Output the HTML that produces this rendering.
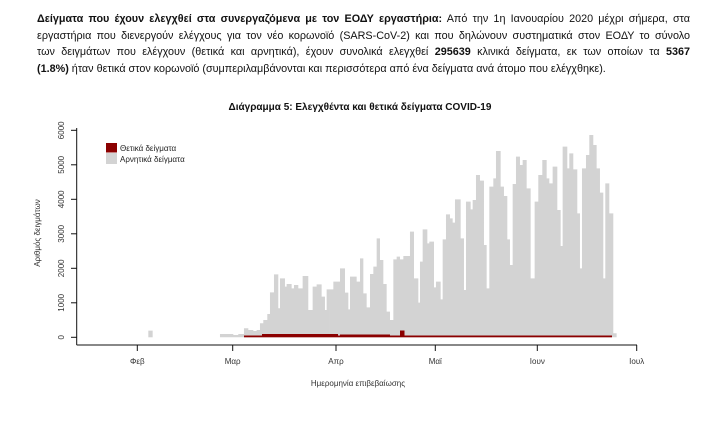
<!DOCTYPE html>
<html><head><meta charset="utf-8"><style>
body{margin:0;width:723px;height:431px;background:#fff;overflow:hidden;font-family:"Liberation Sans",sans-serif}
.p{position:absolute;left:37px;width:653px;font-size:10.8px;color:#111;text-align:justify;text-align-last:justify;white-space:normal}
</style></head><body>
<div class="p" style="top:13px"><b>Δείγματα που έχουν ελεγχθεί στα συνεργαζόμενα με τον ΕΟΔΥ εργαστήρια:</b> Από την 1η Ιανουαρίου 2020 μέχρι σήμερα, στα</div>
<div class="p" style="top:30px">εργαστήρια που διενεργούν ελέγχους για τον νέο κορωνοϊό (SARS-CoV-2) και που δηλώνουν συστηματικά στον ΕΟΔΥ το σύνολο</div>
<div class="p" style="top:46px">των δειγμάτων που ελέγχουν (θετικά και αρνητικά), έχουν συνολικά ελεγχθεί <b>295639</b> κλινικά δείγματα, εκ των οποίων τα <b>5367</b></div>
<div class="p" style="top:63px;width:auto;text-align-last:auto"><b>(1.8%)</b> ήταν θετικά στον κορωνοϊό (συμπεριλαμβάνονται και περισσότερα από ένα δείγματα ανά άτομο που ελέγχθηκε).</div>
<svg width="723" height="431" style="position:absolute;left:0;top:0" font-family="Liberation Sans, sans-serif">
<text x="360" y="110" text-anchor="middle" font-size="10" font-weight="bold" fill="#111">Διάγραμμα 5: Ελεγχθέντα και θετικά δείγματα COVID-19</text>
<g fill="#d3d3d3" transform="translate(30,95) scale(0.3333)">
<rect x="355" y="707" width="13" height="20"/>
<path d="M570 727V717H610V720H625V717H642V700H655V705H670V708H680V705H690V685H700V675H712V657H720V592H732V538H745V640H750V550H765V575H770V567H785V580H792V570H805V580H818V543H835V645H848V575H860V568H875V605H885V645H890V583H900V727Z"/>
</g>
<g fill="#d3d3d3" transform="translate(330,120) scale(0.3333)">
<path d="M0 652V508H10V485H30V445H45V518H55V568H60V470H80V485H90V415H100V520H110V562H120V462H130V440H140V355H150V420H160V492H170V575H180V600H190V418H200V410H210V418H220V408H240V335H252V475H265V548H270V425H278V328H292V370H298V365H312V502H318V485H332V538H338V358H348V283H360V295H368V308H375V238H392V355H402V510H408V245H422V268H428V240H438V165H450V182H462V375H470V505H478V200H490V175H498V93H512V200H522V228H532V358H540V435H548V192H558V110H570V135H578V120H590V205H602V475H614V245H625V165H637V120H650V175H658V190H668V140H682V270H692V378H698V80H712V145H718V100H730V148H742V280H750V445H756V145H768V105H778V45H790V75H800V145H810V218H820V475H826V190H838V280H850V640H860V652Z"/>
</g>
<g fill="#8b0000">
<rect x="244" y="335.5" width="368" height="1.8"/>
<rect x="262" y="334" width="76" height="2"/>
<rect x="340" y="334.5" width="50" height="1.5"/>
<rect x="400" y="330.5" width="4.5" height="6"/>
</g>
<line x1="76.7" y1="128" x2="76.7" y2="345" stroke="#111" stroke-width="1"/>
<line x1="76.7" y1="345" x2="637" y2="345" stroke="#111" stroke-width="1"/>
<g stroke="#111"><line x1="71" y1="337.3" x2="76.7" y2="337.3"/><line x1="71" y1="302.8" x2="76.7" y2="302.8"/><line x1="71" y1="268.3" x2="76.7" y2="268.3"/><line x1="71" y1="233.8" x2="76.7" y2="233.8"/><line x1="71" y1="199.3" x2="76.7" y2="199.3"/><line x1="71" y1="164.8" x2="76.7" y2="164.8"/><line x1="71" y1="130.3" x2="76.7" y2="130.3"/>
<line x1="137.3" y1="345" x2="137.3" y2="351"/><line x1="232.7" y1="345" x2="232.7" y2="351"/><line x1="336" y1="345" x2="336" y2="351"/><line x1="435.3" y1="345" x2="435.3" y2="351"/><line x1="537.3" y1="345" x2="537.3" y2="351"/><line x1="636.7" y1="345" x2="636.7" y2="351"/></g>
<g font-size="8" fill="#333" text-anchor="middle">
<text transform="translate(64,337.3) rotate(-90)">0</text><text transform="translate(64,302.8) rotate(-90)">1000</text><text transform="translate(64,268.3) rotate(-90)">2000</text><text transform="translate(64,233.8) rotate(-90)">3000</text><text transform="translate(64,199.3) rotate(-90)">4000</text><text transform="translate(64,164.8) rotate(-90)">5000</text><text transform="translate(64,130.3) rotate(-90)">6000</text>
<text x="137.3" y="364">Φεβ</text><text x="232.7" y="364">Μαρ</text><text x="336" y="364">Απρ</text><text x="435.3" y="364">Μαϊ</text><text x="537.3" y="364">Ιουν</text><text x="636.7" y="364">Ιουλ</text>
<text x="358" y="386">Ημερομηνία επιβεβαίωσης</text>
<text transform="translate(40,233) rotate(-90)">Αριθμός δειγμάτων</text>
</g>
<rect x="106" y="143" width="11" height="9.5" fill="#8b0000"/>
<rect x="106" y="153" width="11" height="11" fill="#d3d3d3"/>
<text x="120" y="151" font-size="8" fill="#222">Θετικά δείγματα</text>
<text x="120" y="162" font-size="8" fill="#222">Αρνητικά δείγματα</text>
</svg>
</body></html>
